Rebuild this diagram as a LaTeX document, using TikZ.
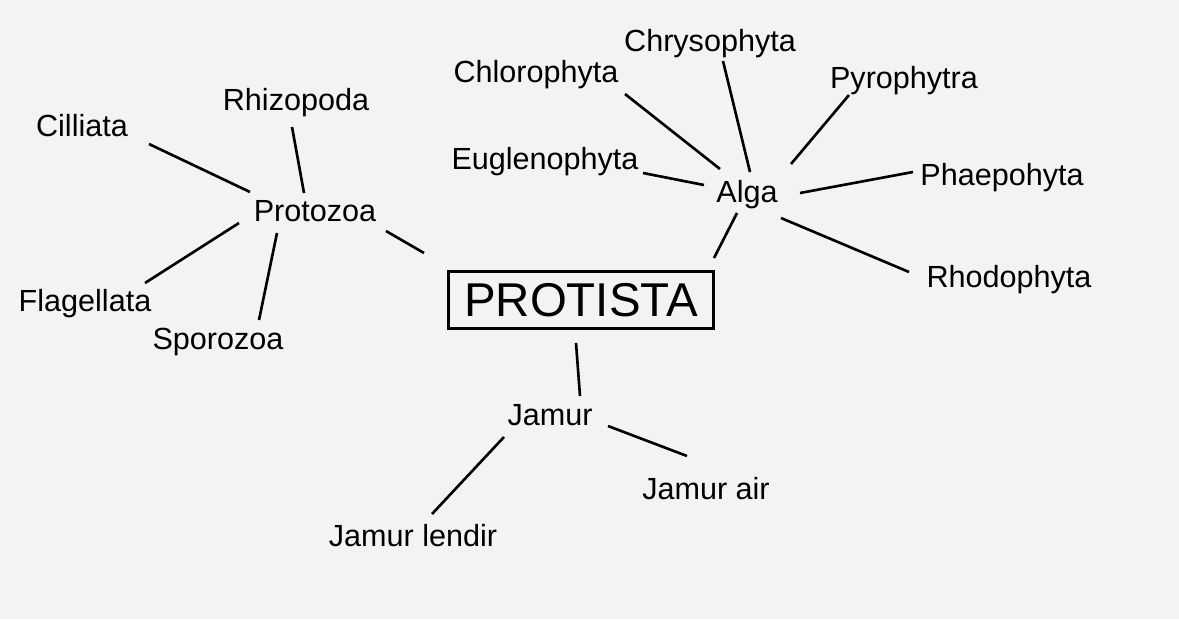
\documentclass[tikz,border=0pt]{standalone}
\usepackage{fontspec}
\setmainfont{Liberation Sans}
\usepackage{tikz}
\usetikzlibrary{positioning,calc}

\definecolor{paper}{HTML}{F3F3F3}

\begin{document}
\begin{tikzpicture}[
    x=0.02cm, y=-0.02cm,
    taxon/.style={inner sep=0pt, font=\fontsize{17.4}{20}\selectfont, text height=12.46pt, text depth=0pt},
    kingdom/.style={draw, line width=1.6pt, minimum width=5.3cm, minimum height=1.14cm, inner sep=0pt,
      font=\fontsize{27}{30}\selectfont, text height=19.3pt, text depth=0pt},
    link/.style={line width=1.5pt},
  ]
  % Background
  \fill[paper] (0,0) rectangle (1179,619);

  % Centre
  \node[kingdom] (protista) at (581,300) {PROTISTA};

  % Groups
  \node[taxon] (protozoa) at (315,211) {Protozoa};
  \node[taxon] (alga) at (747,192) {Alga};
  \node[taxon] (jamur) at (550,415) {Jamur};

  % Protozoa classes
  \node[taxon] (rhizopoda) at (296,100) {Rhizopoda};
  \node[taxon] (cilliata) at (82,126) {Cilliata};
  \node[taxon] (flagellata) at (85,301) {Flagellata};
  \node[taxon] (sporozoa) at (218,339) {Sporozoa};

  % Alga divisions
  \node[taxon] (chlorophyta) at (536,72) {Chlorophyta};
  \node[taxon] (chrysophyta) at (710,41) {Chrysophyta};
  \node[taxon] (pyrophytra) at (904,78) {Pyrophytra};
  \node[taxon] (euglenophyta) at (545,159) {Euglenophyta};
  \node[taxon] (phaepohyta) at (1002,175) {Phaepohyta};
  \node[taxon] (rhodophyta) at (1009,277) {Rhodophyta};

  % Jamur kinds
  \node[taxon] (jamurair) at (706,489) {Jamur air};
  \node[taxon] (jamurlendir) at (413,536) {Jamur lendir};

  % Links (free-standing strokes between the words)
  \draw[link] ([shift={(71,20)}]protozoa.center) -- ([shift={(-157,-47)}]protista.center);
  \draw[link] ([shift={(-10,21)}]alga.center) -- ([shift={(133,-42)}]protista.center);
  \draw[link] ([shift={(-5,43)}]protista.center) -- ([shift={(30,-19)}]jamur.center);

  \draw[link] ([shift={(67,18)}]cilliata.center) -- ([shift={(-65,-19)}]protozoa.center);
  \draw[link] ([shift={(-4,27)}]rhizopoda.center) -- ([shift={(-11,-18)}]protozoa.center);
  \draw[link] ([shift={(60,-18)}]flagellata.center) -- ([shift={(-76,12)}]protozoa.center);
  \draw[link] ([shift={(41,-19)}]sporozoa.center) -- ([shift={(-38,22)}]protozoa.center);

  \draw[link] ([shift={(89,22)}]chlorophyta.center) -- ([shift={(-27,-23)}]alga.center);
  \draw[link] ([shift={(13,20)}]chrysophyta.center) -- ([shift={(3,-20)}]alga.center);
  \draw[link] ([shift={(-55,17)}]pyrophytra.center) -- ([shift={(44,-28)}]alga.center);
  \draw[link] ([shift={(98,14)}]euglenophyta.center) -- ([shift={(-43,-7)}]alga.center);
  \draw[link] ([shift={(-89,-3)}]phaepohyta.center) -- ([shift={(53,1)}]alga.center);
  \draw[link] ([shift={(-100,-5)}]rhodophyta.center) -- ([shift={(34,26)}]alga.center);

  \draw[link] ([shift={(58,11)}]jamur.center) -- ([shift={(-19,-33)}]jamurair.center);
  \draw[link] ([shift={(-46,22)}]jamur.center) -- ([shift={(19,-22)}]jamurlendir.center);
\end{tikzpicture}
\end{document}
